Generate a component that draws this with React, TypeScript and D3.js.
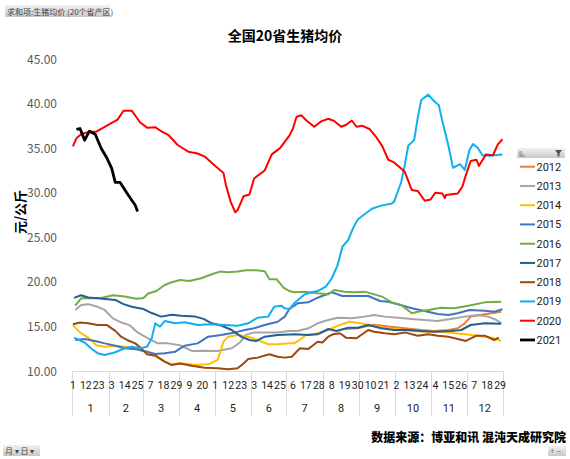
import React, { useRef, useEffect } from "react"
import * as d3 from "d3"

// [day of year index (0 = 1 Jan), price]
const s2012: [number, number][] = [[231,14.7],[242,14.8],[256,15.2],[268,15.0],[282,14.8],[296,14.6],[307,14.5],[319,14.6],[327,14.8],[333,15.35],[338,16.1],[350,16.36],[364,16.65]]
const s2013: [number, number][] = [[2,16.85],[7,17.4],[13,17.5],[21,17.2],[27,16.85],[34,15.9],[40,15.5],[48,15.15],[55,14.33],[64,13.65],[72,13.1],[81,13.1],[91,12.9],[101,12.25],[112,12.28],[123,12.25],[135,12.55],[142,13.2],[147,14.05],[154,14.33],[166,14.33],[174,14.33],[184,14.5],[191,14.49],[200,14.79],[208,15.35],[217,15.72],[225,15.98],[237,15.91],[248,16.1],[256,16.28],[265,16.1],[276,15.98],[288,15.83],[299,15.72],[310,15.6],[321,15.83],[333,16.1],[344,16.28],[353,16.1],[360,15.72],[364,15.35]]
const s2014: [number, number][] = [[0,15.15],[6,14.33],[13,13.74],[20,12.9],[27,12.72],[36,12.84],[44,12.72],[53,12.55],[61,12.17],[70,11.8],[78,11.05],[84,10.75],[92,10.86],[104,10.67],[115,10.75],[123,11.23],[128,13.29],[132,13.85],[140,14.04],[149,13.85],[157,13.48],[166,13.0],[174,13.0],[184,13.1],[188,13.1],[194,13.59],[198,14.04],[208,14.23],[217,14.6],[225,15.08],[235,15.53],[245,15.35],[254,15.08],[265,14.86],[276,14.67],[288,14.49],[299,14.41],[310,14.41],[321,14.3],[333,14.12],[344,13.96],[356,13.74],[364,13.37]]
const s2015: [number, number][] = [[2,13.48],[10,13.6],[19,13.37],[27,13.1],[36,12.84],[44,12.55],[54,12.43],[63,12.17],[70,11.9],[78,11.98],[87,12.17],[95,12.84],[106,13.1],[115,13.85],[126,14.04],[138,14.33],[146,14.6],[154,14.79],[163,15.16],[174,15.53],[180,16.1],[184,16.95],[191,17.59],[200,17.7],[208,18.22],[220,18.83],[229,18.41],[239,18.41],[251,18.41],[261,17.85],[268,17.77],[276,17.48],[288,17.03],[299,16.73],[310,16.39],[319,16.28],[327,16.47],[337,16.84],[350,16.77],[358,16.65],[365,16.92]]
const s2016: [number, number][] = [[2,17.33],[7,18.15],[16,18.15],[24,18.2],[34,18.5],[44,18.35],[54,18.1],[60,18.2],[64,18.7],[71,18.97],[78,19.65],[84,19.95],[91,20.2],[99,20.1],[109,20.4],[118,20.85],[125,21.15],[132,21.07],[140,21.15],[147,21.3],[156,21.3],[163,21.2],[167,20.3],[173,20.3],[179,19.35],[184,18.97],[188,18.83],[197,18.9],[208,18.72],[217,18.6],[222,19.09],[231,18.9],[239,18.83],[248,18.9],[256,18.6],[263,18.33],[271,17.7],[279,17.4],[288,16.47],[293,16.65],[302,16.84],[313,17.1],[324,17.03],[336,17.33],[350,17.7],[364,17.77]]
const s2017: [number, number][] = [[1,18.2],[7,18.5],[13,18.25],[21,18.15],[36,17.97],[43,17.5],[50,17.2],[60,16.95],[67,16.5],[75,16.1],[84,16.3],[92,16.2],[104,16.1],[111,15.85],[118,15.35],[126,15.1],[135,14.6],[143,13.85],[150,13.48],[156,13.37],[163,13.85],[174,14.05],[184,14.1],[188,14.12],[200,14.04],[208,14.12],[217,14.71],[224,14.49],[234,14.86],[242,14.86],[251,15.16],[262,14.79],[273,14.6],[285,14.6],[296,14.49],[307,14.41],[321,14.49],[330,14.6],[338,15.16],[350,15.35],[364,15.31]]
const s2018: [number, number][] = [[0,15.25],[6,15.45],[13,15.35],[21,15.15],[29,15.15],[36,14.5],[41,13.85],[46,13.48],[53,13.1],[58,12.55],[63,11.87],[70,11.72],[78,11.05],[84,10.67],[91,10.85],[101,10.6],[112,10.37],[123,10.3],[132,10.19],[140,10.3],[145,10.85],[149,11.35],[157,11.5],[167,11.87],[174,11.6],[180,11.5],[186,11.6],[193,12.55],[200,12.47],[208,13.29],[212,13.2],[217,13.85],[221,14.12],[227,14.23],[232,13.74],[241,13.67],[251,14.6],[256,14.41],[265,14.23],[273,14.12],[282,14.33],[293,13.96],[302,14.12],[310,13.96],[319,13.85],[327,13.59],[334,13.37],[343,13.96],[350,13.96],[358,13.48],[362,13.74]]
const s2019: [number, number][] = [[1,13.74],[10,13.2],[16,12.47],[21,12.0],[27,11.8],[36,12.1],[44,12.55],[50,12.72],[57,12.55],[63,12.72],[67,13.67],[70,15.35],[74,14.97],[78,15.6],[87,15.35],[95,15.46],[106,15.16],[118,15.24],[129,15.16],[140,15.08],[149,15.35],[157,15.98],[166,16.1],[171,17.2],[177,17.33],[180,17.03],[184,16.95],[188,17.59],[197,18.6],[203,18.83],[208,18.97],[215,19.46],[220,20.4],[225,21.89],[229,23.94],[234,24.7],[238,26.0],[242,27.0],[254,28.2],[262,28.55],[271,28.8],[273,29.0],[279,31.2],[282,33.1],[285,35.3],[290,35.9],[293,38.35],[296,40.4],[302,41.0],[306,40.4],[311,39.8],[314,38.0],[319,35.35],[323,32.8],[329,33.2],[333,32.55],[337,34.8],[340,35.45],[344,35.05],[348,34.2],[354,34.15],[365,34.3]]
const s2020: [number, number][] = [[0,35.2],[3,36.1],[7,36.55],[14,36.85],[20,36.85],[30,37.6],[38,38.2],[43,39.2],[50,39.2],[57,37.9],[63,37.3],[70,37.35],[75,36.9],[81,36.5],[89,35.35],[98,34.6],[106,34.4],[112,34.05],[121,33.0],[128,32.2],[130,30.9],[134,29.0],[138,27.8],[140,28.05],[145,29.6],[150,29.8],[154,31.6],[163,32.5],[169,34.3],[176,35.0],[180,35.7],[184,36.4],[187,37.2],[190,38.5],[194,38.7],[198,38.15],[205,37.4],[211,38.0],[217,38.3],[222,38.05],[228,37.4],[232,37.6],[237,38.1],[241,37.4],[246,37.5],[252,37.15],[258,36.2],[263,35.2],[268,33.7],[273,33.4],[282,32.35],[288,30.3],[293,30.2],[299,29.1],[304,29.25],[308,30.0],[314,29.9],[316,29.4],[317,29.75],[327,29.9],[331,30.7],[334,32.0],[338,33.55],[343,33.7],[345,33.0],[351,34.3],[357,34.2],[361,35.4],[365,36.0]]
const s2021: [number, number][] = [[3,37.1],[6,37.2],[10,35.9],[14,36.9],[19,36.55],[24,34.98],[29,33.86],[33,32.74],[36,31.17],[40,31.17],[47,29.74],[53,28.6],[55,27.9]]

const years = ["2012", "2013", "2014", "2015", "2016", "2017", "2018", "2019", "2020", "2021"]
const colors = ["#ED7D31", "#A5A5A5", "#FFC000", "#4472C4", "#70AD47", "#255E91", "#9E480E", "#12AEEF", "#FF0000", "#000000"]
const seriesData = [s2012, s2013, s2014, s2015, s2016, s2017, s2018, s2019, s2020, s2021]
const monthLabels = ["1", "2", "3", "4", "5", "6", "7", "8", "9", "10", "11", "12"]
const yTicks = [10, 15, 20, 25, 30, 35, 40, 45]

export default function App() {
  const svgRef = useRef<SVGSVGElement>(null)

  useEffect(() => {
    const svg = d3.select(svgRef.current)
    svg.selectAll("*").remove()

    const left = 72.3, right = 503, top = 59, bottom = 371
    const x = d3.scaleLinear().domain([-0.5, 365.5]).range([left, right])
    const y = d3.scaleLinear().domain([10, 45]).range([bottom, top])

    const days = d3.timeDays(new Date(2020, 0, 1), new Date(2021, 0, 1))
    const monthStarts = days.map((d, i) => (d.getDate() === 1 ? i : -1)).filter(i => i >= 0)
    const labelFont = "Roboto, 'Noto Sans', sans-serif"

    // top-left pivot field button
    const grad = svg.append("defs").append("linearGradient")
      .attr("id", "btn").attr("x1", 0).attr("x2", 0).attr("y1", 0).attr("y2", 1)
    grad.append("stop").attr("offset", "0%").attr("stop-color", "#f2f2f2")
    grad.append("stop").attr("offset", "100%").attr("stop-color", "#c8c8c8")
    svg.append("rect").attr("x", 5).attr("y", 5).attr("width", 105).attr("height", 12).attr("fill", "url(#btn)")
    svg.append("text").attr("x", 7).attr("y", 14.5)
      .attr("font-size", "8px").attr("fill", "#444").attr("font-family", "'Noto Sans CJK SC'")
      .text("求和项:生猪均价 (20个省产区)")

    // title
    svg.append("text").attr("x", 285).attr("y", 41).attr("text-anchor", "middle")
      .attr("font-size", "14px").attr("font-weight", "bold").attr("font-family", "'Noto Sans CJK SC'")
      .text("全国20省生猪均价")

    // y axis labels
    svg.append("g").selectAll("text").data(yTicks).enter().append("text")
      .attr("x", 57).attr("y", d => y(d) + 4.5).attr("text-anchor", "end")
      .attr("font-size", "12px").attr("fill", "#595959").attr("font-family", "'Noto Sans CJK SC'")
      .text(d => d3.format(".2f")(d))

    svg.append("text").attr("transform", "translate(25,212) rotate(-90)")
      .attr("text-anchor", "middle").attr("font-size", "13px").attr("font-weight", "bold")
      .attr("font-family", "'Noto Sans CJK SC'").text("元/公斤")

    // x axis: baseline and month separators
    const axis = svg.append("g").attr("stroke", "#d9d9d9").attr("stroke-width", 1)
    axis.append("line").attr("x1", left).attr("x2", right).attr("y1", bottom + 0.5).attr("y2", bottom + 0.5)
    axis.selectAll(".sep").data([...monthStarts, 366]).enter().append("line")
      .attr("x1", d => Math.round(x(d - 0.5)) + 0.5).attr("x2", d => Math.round(x(d - 0.5)) + 0.5)
      .attr("y1", bottom).attr("y2", 416)

    svg.append("g").selectAll("text").data(days.filter((d, i) => i % 11 === 0)).enter().append("text")
      .attr("x", (d, i) => x(i * 11)).attr("y", 389).attr("text-anchor", "middle")
      .attr("font-size", "10.5px").attr("fill", "#222").attr("font-family", labelFont)
      .text(d => d.getDate())

    svg.append("g").selectAll("text").data(monthLabels).enter().append("text")
      .attr("x", (d, i) => (x(monthStarts[i] - 0.5) + x((i < 11 ? monthStarts[i + 1] : 366) - 0.5)) / 2)
      .attr("y", 412).attr("text-anchor", "middle")
      .attr("font-size", "11px").attr("fill", "#222").attr("font-family", labelFont)
      .text(d => d)

    // series
    const line = d3.line<[number, number]>().x(d => x(d[0])).y(d => y(d[1]))
    svg.append("g").selectAll("path").data(seriesData).enter().append("path")
      .attr("d", d => line(d))
      .attr("fill", "none")
      .attr("stroke", (d, i) => colors[i])
      .attr("stroke-width", (d, i) => (i === 9 ? 2.8 : 2))
      .attr("stroke-linejoin", "round")

    // legend
    svg.append("rect").attr("x", 517).attr("y", 148).attr("width", 48).attr("height", 10).attr("fill", "url(#btn)")
    svg.append("path").attr("d", "M555,150 h7 l-2.5,3.5 v3 h-2 v-3 z").attr("fill", "#555")
    svg.append("path").attr("d", "M520,151 v5 h5 M521,154 h2 M521,152 h1").attr("stroke", "#666").attr("fill", "none").attr("stroke-width", 0.8)

    const leg = svg.append("g").selectAll("g").data(years).enter().append("g")
      .attr("transform", (d, i) => `translate(0,${166.7 + i * 19.25})`)
    leg.append("line").attr("x1", 520).attr("x2", 535).attr("y1", 0).attr("y2", 0)
      .attr("stroke", (d, i) => colors[i]).attr("stroke-width", (d, i) => (i === 9 ? 2.8 : 2))
    leg.append("text").attr("x", 536.5).attr("y", 4).attr("font-size", "11px")
      .attr("fill", "#222").attr("font-family", labelFont).text(d => d)

    // source
    svg.append("text").attr("x", 566).attr("y", 442).attr("text-anchor", "end")
      .attr("font-size", "12px").attr("font-weight", 900).attr("font-family", "'Noto Sans CJK SC'")
      .text("数据来源：博亚和讯 混沌天成研究院")

    // bottom pivot buttons
    svg.append("rect").attr("x", 3).attr("y", 445).attr("width", 37).attr("height", 11).attr("fill", "url(#btn)")
    svg.append("text").attr("x", 5).attr("y", 454).attr("font-size", "8px").attr("fill", "#444")
      .attr("font-family", "'Noto Sans CJK SC'").text("月 ▾ 日 ▾")
    svg.append("rect").attr("x", 548).attr("y", 446).attr("width", 18).attr("height", 10).attr("fill", "url(#btn)")
    svg.append("text").attr("x", 550).attr("y", 454).attr("font-size", "8px").attr("fill", "#777")
      .attr("font-family", "'Noto Sans'").text("+ −")
  }, [])

  return (
    <svg ref={svgRef} width={570} height={459}
      style={{ position: "absolute", left: 0, top: 0, background: "#fff" }} />
  )
}
